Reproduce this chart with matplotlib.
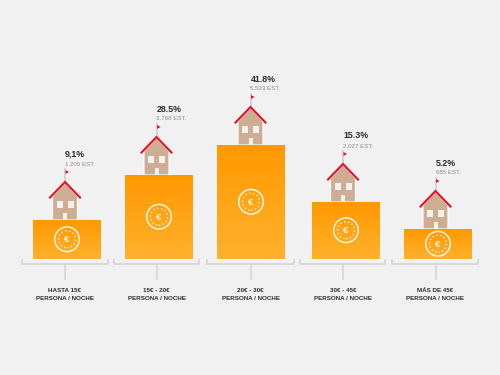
import numpy as np
import matplotlib
matplotlib.use('Agg')
import matplotlib.pyplot as plt
from matplotlib.patches import Circle, Polygon, Rectangle

# chart data
categories = ['HASTA 15€', '15€ - 20€', '20€ - 30€', '30€ - 45€', 'MÁS DE 45€']
percents = ['9,1%', '28.5%', '41.8%', '15.3%', '5.2%']
establishments = ['1.205 EST.', '3.768 EST.', '5.523 EST.', '2.027 EST.', '685 EST.']
bar_sizes = [38.5, 83.5, 113.5, 56.5, 29.5]

# layout in pixels, y measured upwards from the bar baseline
BASE = 258.5
bar_x = [67, 159, 251, 346, 438]
house_x = [65, 156.5, 250.5, 343, 435.5]
bracket_x = [(22, 107.5), (113.5, 198.5), (207, 293.5), (300, 385), (392, 478)]
stem_x = [64.5, 156.5, 250.5, 343, 435.5]
BG = '#f1f1f1'

plt.rcParams['font.family'] = ['Liberation Sans', 'DejaVu Sans']


def draw_house(ax, x, y):
    # y is the top of the bar the house stands on
    ax.add_patch(Polygon([(x - 12.5, y), (x - 12.5, y + 24), (x, y + 37.5), (x + 12.5, y + 24), (x + 12.5, y)],
                         fc='#cdae95', ec='#fafafa', lw=0.9, zorder=2))
    ax.plot([x - 15, x, x + 15], [y + 22.5, y + 38, y + 22.5], color='#e3122a', lw=1.5, zorder=3,
            solid_joinstyle='miter')
    ax.plot([x, x], [y + 38, y + 51], color='#d4d4d4', lw=1.4, zorder=1)
    ax.add_patch(Polygon([(x + 0.5, y + 50), (x + 4, y + 48), (x + 0.5, y + 46)], fc='#e3122a', ec='none', zorder=3))
    for dx in (-8.5, 2.5):
        ax.add_patch(Rectangle((x + dx, y + 12), 6.3, 7, fc='#f5f0ea', ec='none', zorder=3))
    ax.add_patch(Rectangle((x - 2, y), 4, 7, fc='#f5f0ea', ec='none', zorder=3))


def draw_coin(ax, x, y):
    ax.add_patch(Circle((x, y), 12.3, fc='none', ec='#fff3dc', lw=1.1, zorder=4))
    ax.add_patch(Circle((x, y), 8.5, fc='none', ec='#fff3dc', lw=1.0, ls=(0, (1, 1.8)), zorder=4))
    ax.text(x, y - 0.3, '€', color='#fff3dc', fontsize=6.8, fontweight='bold', ha='center', va='center', zorder=5)


fig = plt.figure(figsize=(5, 3.75), dpi=100, facecolor=BG)
ax = fig.add_axes([0, 0, 1, 1])
ax.set_xlim(0, 500)
ax.set_ylim(BASE - 375, BASE)
ax.axis('off')

gradient = np.linspace(0, 1, 64).reshape(-1, 1)
cmap = matplotlib.colors.LinearSegmentedColormap.from_list('bar', ['#ff9900', '#ffb12d'])

bars = ax.bar(bar_x, bar_sizes, width=68, color='#ffa516', edgecolor='none', zorder=2)
for i, rect in enumerate(bars):
    cx = bar_x[i]
    h = bar_sizes[i]
    img = ax.imshow(gradient, extent=(cx - 34, cx + 34, 0, h), cmap=cmap, aspect='auto', zorder=3)
    img.set_clip_path(rect)
    draw_coin(ax, cx, h / 2)
    draw_house(ax, house_x[i], h)

    # labels above the flag
    ax.text(house_x[i], h + 66, percents[i], fontsize=6.4, fontweight='bold', color='#2b2b2b', ha='left', va='center')
    ax.text(house_x[i], h + 56, establishments[i], fontsize=4.4, color='#8d8d8d', ha='left', va='center')

    # bracket under each bar
    x0, x1 = bracket_x[i]
    ax.plot([x0, x0, x1, x1], [-1.5, -5.5, -5.5, -1.5], color='#d2d2d2', lw=1.1, solid_joinstyle='miter')
    ax.plot([stem_x[i], stem_x[i]], [-5.5, -20.5], color='#d2d2d2', lw=1.1)

    ax.text(stem_x[i], -32, categories[i], fontsize=4.5, fontweight='bold', color='#2b2b2b', ha='center', va='center')
    ax.text(stem_x[i], -40.5, 'PERSONA / NOCHE', fontsize=4.5, fontweight='bold', color='#2b2b2b', ha='center', va='center')

# imshow resets the limits
ax.set_xlim(0, 500)
ax.set_ylim(BASE - 375, BASE)

fig.savefig('out.png', dpi=100, facecolor=BG)
